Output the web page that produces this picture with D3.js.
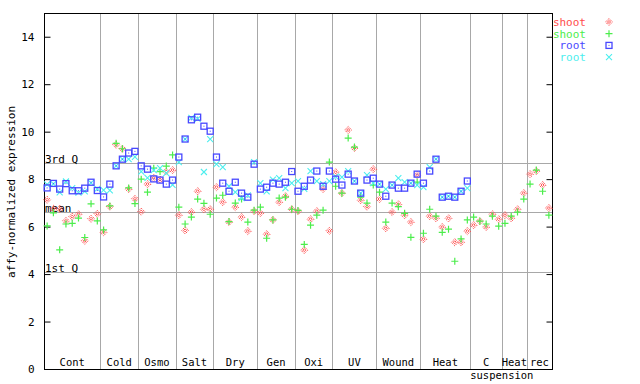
<!DOCTYPE html>
<html><head><meta charset="utf-8">
<script src="https://cdn.jsdelivr.net/npm/d3@7"></script>
<style>body{margin:0;background:#fff}svg{display:block}text{font-family:"DejaVu Sans Mono",monospace;font-size:11px}</style>
</head><body>
<svg id="c" width="640" height="384"></svg>
<script>
const groupNames = ["Cont","Cold","Osmo","Salt","Dry","Gen","Oxi","UV","Wound","Heat","C","Heat","rec"];
const groupSizes = [9,6,6,6,7,6,6,7,7,8,5,4,4];
const subLabel = "suspension";
const yTicks = [0,2,4,6,8,10,12,14];
const refLines = [{label:"3rd Q", v:8.69},{label:"mean", v:6.62},{label:"1st Q", v:4.09}];
const seriesNames = ["shoot","shoot","root","root"];

const shootRed = [
7.13,6.75,6.75,6.24,6.42,6.52,5.40,6.33,6.54,
5.76,6.84,9.45,9.28,7.58,7.17,
6.63,7.79,8.05,7.98,8.32,8.38,
6.48,5.84,6.61,7.49,6.73,6.73,
7.66,7.03,6.19,6.82,6.40,5.81,6.65,
6.57,5.68,6.28,7.03,7.28,6.73,
6.65,5.01,6.31,6.65,7.58,5.82,
8.29,7.41,10.07,9.31,7.11,6.84,8.42,
7.16,5.93,6.61,6.94,6.48,6.19,8.17,
5.47,6.44,6.35,5.98,6.35,5.34,5.34,5.81,
6.06,6.23,5.98,6.52,6.31,
6.48,6.35,6.73,7.41,
8.21,8.34,7.75,6.78];
const shootGreen = [
6.03,6.58,5.02,6.11,6.14,6.36,5.54,6.96,6.24,
5.86,6.87,9.51,9.28,7.63,6.97,
8.00,7.45,8.46,8.32,8.55,9.02,
6.82,6.11,6.40,7.16,6.98,6.52,
7.20,7.32,6.21,6.99,7.16,6.19,6.69,
6.82,5.51,6.28,7.20,7.24,6.73,
6.68,5.25,6.06,6.48,6.69,8.72,
7.70,7.41,9.73,9.35,7.24,6.99,7.75,
7.45,6.19,6.99,6.84,6.56,5.55,7.87,
5.72,6.73,6.44,5.76,5.89,4.54,5.48,6.28,
6.40,6.23,6.11,6.44,6.02,
6.14,6.44,6.61,7.16,
7.79,8.38,7.49,6.48];
const rootBlue = [
7.63,7.82,7.58,7.81,7.51,7.51,7.62,7.87,7.52,
7.25,7.79,8.56,8.84,9.10,9.17,
8.56,8.42,8.01,7.96,7.79,7.96,
8.93,9.69,10.50,10.61,10.23,10.02,
8.93,7.83,7.49,7.87,7.41,7.24,8.63,
7.58,7.66,7.83,7.79,7.87,8.32,
7.49,7.70,7.96,8.34,7.70,8.34,
8.00,7.75,8.21,7.92,7.41,7.96,8.04,
7.79,7.28,7.75,7.62,7.62,7.83,8.21,
7.83,8.34,8.84,7.24,7.28,7.24,7.49,7.92];
const rootCyan = [
7.78,7.80,7.44,7.90,7.62,7.43,7.48,7.84,7.59,
7.54,7.53,8.56,8.84,8.84,8.94,
8.32,8.05,8.38,8.46,8.25,7.76,
8.72,9.69,10.58,10.54,8.30,9.69,
8.63,8.51,7.70,7.45,7.20,7.32,8.72,
7.83,7.48,7.98,8.04,7.62,7.83,
7.92,7.59,8.34,7.92,7.79,7.92,
8.11,8.08,8.34,7.92,7.41,8.17,7.83,
7.79,7.58,7.75,8.04,7.87,7.83,7.75,
7.66,8.51,8.84,7.24,7.28,7.24,7.49,7.62];

const colors = ["#ff4c4c","#4ced4c","#4848ff","#4ceeee"];
const shapes = ["diamond","plus","square","cross"];

const svg = d3.select("#c");
const L=44, R=552, T=13, B=369;
const nSamples = d3.sum(groupSizes);
const x = d3.scaleBand().domain(d3.range(nSamples)).range([L,R]).padding(0);
const y = d3.scaleLinear().domain([0,15]).range([B,T]);
const cx = i => x(i) + x.bandwidth()/2;

// group separators
let starts = []; let acc=0;
groupSizes.forEach(n=>{starts.push(acc); acc+=n;});
const grid = svg.append("g").attr("stroke","#a8a8a8").attr("stroke-width",1);
starts.slice(1).forEach(s=>{
  const xx = Math.round(x(s))+0.5;
  grid.append("line").attr("x1",xx).attr("x2",xx).attr("y1",T).attr("y2",B);
});
refLines.forEach(r=>{
  const yy = Math.round(y(r.v))+0.5;
  grid.append("line").attr("x1",L).attr("x2",R).attr("y1",yy).attr("y2",yy);
  svg.append("text").attr("x",L+1).attr("y",yy-1).text(r.label).attr("fill","#000");
});

// group labels
groupNames.forEach((g,k)=>{
  const x0 = x(starts[k]), x1 = x(starts[k]+groupSizes[k]-1)+x.bandwidth();
  svg.append("text").attr("x",(x0+x1)/2).attr("y",366).attr("text-anchor","middle")
    .style("font-size","10.5px").text(g);
});
svg.append("text").attr("x",x(starts[11])).attr("y",378.5).attr("text-anchor","middle")
  .style("font-size","10.5px").text(subLabel);

// axes frame
const yAxisL = d3.axisLeft(y).tickValues(yTicks).tickSize(-6).tickPadding(10).tickFormat(d3.format("d"));
const gl = svg.append("g").attr("transform",`translate(${L+0.5},0)`).call(yAxisL);
gl.select(".domain").remove();
gl.selectAll("text").attr("font-family","DejaVu Sans Mono").attr("font-size","11px");
const yAxisR = d3.axisRight(y).tickValues(yTicks).tickSize(-6).tickFormat("");
const gr = svg.append("g").attr("transform",`translate(${R+0.5},0)`).call(yAxisR);
gr.select(".domain").remove();
svg.append("rect").attr("x",L+0.5).attr("y",T+0.5).attr("width",R-L).attr("height",B-T)
  .attr("fill","none").attr("stroke","#000").attr("stroke-width",1);

// y title
svg.append("text").attr("transform","translate(15,192) rotate(-90)").attr("text-anchor","middle").text("affy-normalized expression");

function marker(g, shape, color){
  if(shape==="diamond"){
    g.append("path").attr("d","M0,-3.5L3.5,0L0,3.5L-3.5,0Z").attr("fill","none").attr("stroke",color).attr("stroke-width",1).attr("stroke-dasharray","1.4,1");
    g.append("path").attr("d","M0,-1.5L1.5,0L0,1.5L-1.5,0Z").attr("fill","none").attr("stroke",color).attr("stroke-width",1);
  } else if(shape==="plus"){
    g.append("path").attr("d","M-3.5,0H3.5M0,-3.5V3.5").attr("stroke",color).attr("stroke-width",1.2);
  } else if(shape==="square"){
    g.append("rect").attr("x",-3).attr("y",-3).attr("width",6).attr("height",6).attr("fill","none").attr("stroke",color).attr("stroke-width",1.3);
    g.append("rect").attr("x",-0.5).attr("y",-0.5).attr("width",1).attr("height",1).attr("fill",color);
  } else {
    g.append("path").attr("d","M-3,-3L3,3M-3,3L3,-3").attr("stroke",color).attr("stroke-width",1.1);
  }
}

const series = [shootRed, shootGreen, rootCyan, rootBlue];
const sIdx = [0,1,3,2];
series.forEach((arr,k)=>{
  const si = sIdx[k];
  const g = svg.append("g");
  arr.forEach((v,i)=>{
    const m = g.append("g").attr("transform",`translate(${cx(i)},${y(v)})`);
    marker(m, shapes[si], colors[si]);
  });
});

// legend
seriesNames.forEach((n,k)=>{
  const yy = 22 + k*11.7;
  svg.append("text").attr("x",586).attr("y",yy+4).attr("text-anchor","end").attr("fill",colors[k]).text(n);
  const m = svg.append("g").attr("transform",`translate(609,${yy})`);
  marker(m, shapes[k], colors[k]);
});
</script>
</body></html>
